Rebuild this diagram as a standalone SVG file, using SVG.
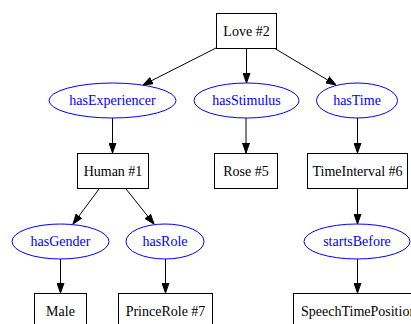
<svg xmlns="http://www.w3.org/2000/svg" width="411" height="324" viewBox="0 0 411 324">
  <defs>
    <marker id="arrow" markerUnits="userSpaceOnUse" markerWidth="10" markerHeight="8" refX="10" refY="4" orient="auto">
      <path d="M0,0.5 L10,4 L0,7.5 z" fill="#000" stroke="#000" stroke-width="1"/>
    </marker>
  </defs>
  <style>
    .box rect { fill: #fff; stroke: #000; stroke-width: 1; }
    .box text { font-family: "Liberation Serif", "Times New Roman", serif; font-size: 14px; fill: #000; text-anchor: middle; }
    .prop ellipse { fill: none; stroke: #0000ff; stroke-width: 1; }
    .prop text { font-family: "Liberation Serif", "Times New Roman", serif; font-size: 14px; fill: #0000ff; text-anchor: middle; }
    .edges line { stroke: #000; stroke-width: 1; marker-end: url(#arrow); }
  </style>
  <rect width="411" height="324" fill="#fff"/>

  <g class="edges">
    <line x1="216" y1="48" x2="143" y2="85"/>
    <line x1="246.5" y1="49" x2="246.5" y2="83"/>
    <line x1="274" y1="48" x2="336" y2="85"/>
    <line x1="112.5" y1="118" x2="112.5" y2="153"/>
    <line x1="246" y1="118" x2="246" y2="153"/>
    <line x1="357.5" y1="118" x2="357.5" y2="153"/>
    <line x1="99" y1="189" x2="73" y2="224"/>
    <line x1="126" y1="189" x2="154" y2="224"/>
    <line x1="357.5" y1="189" x2="357.5" y2="224"/>
    <line x1="60.5" y1="259" x2="60.5" y2="293"/>
    <line x1="165.5" y1="259" x2="165.5" y2="293"/>
    <line x1="357.5" y1="259" x2="357.5" y2="293"/>
  </g>

  <g id="love2" class="box">
    <rect x="216.5" y="13.5" width="60" height="35"/>
    <text x="246.5" y="36">Love #2</text>
  </g>
  <g id="hasExperiencer" class="prop">
    <ellipse cx="112.5" cy="100.5" rx="63.5" ry="17.5"/>
    <text x="112.5" y="105">hasExperiencer</text>
  </g>
  <g id="hasStimulus" class="prop">
    <ellipse cx="246.5" cy="100.5" rx="52.5" ry="17.5"/>
    <text x="246.5" y="105">hasStimulus</text>
  </g>
  <g id="hasTime" class="prop">
    <ellipse cx="357" cy="100.5" rx="40.5" ry="17.5"/>
    <text x="357" y="105">hasTime</text>
  </g>
  <g id="human1" class="box">
    <rect x="77.5" y="153.5" width="71" height="35"/>
    <text x="113" y="176">Human #1</text>
  </g>
  <g id="rose5" class="box">
    <rect x="214.5" y="153.5" width="63" height="35"/>
    <text x="246" y="176">Rose #5</text>
  </g>
  <g id="timeInterval6" class="box">
    <rect x="307.5" y="153.5" width="100" height="35"/>
    <text x="357.5" y="176">TimeInterval #6</text>
  </g>
  <g id="hasGender" class="prop">
    <ellipse cx="60.5" cy="241.5" rx="48.5" ry="17.5"/>
    <text x="60.5" y="246">hasGender</text>
  </g>
  <g id="hasRole" class="prop">
    <ellipse cx="165" cy="241.5" rx="39" ry="17.5"/>
    <text x="165" y="246">hasRole</text>
  </g>
  <g id="startsBefore" class="prop">
    <ellipse cx="357" cy="241.5" rx="53" ry="17.5"/>
    <text x="357" y="246">startsBefore</text>
  </g>
  <g id="male" class="box">
    <rect x="34.5" y="293.5" width="52" height="35"/>
    <text x="60.5" y="316">Male</text>
  </g>
  <g id="princeRole7" class="box">
    <rect x="118.5" y="293.5" width="94" height="35"/>
    <text x="165.5" y="316">PrinceRole #7</text>
  </g>
  <g id="speechTimePosition" class="box">
    <rect x="293.5" y="293.5" width="130" height="35"/>
    <text x="301" y="316" style="text-anchor:start">SpeechTimePosition</text>
  </g>
</svg>
